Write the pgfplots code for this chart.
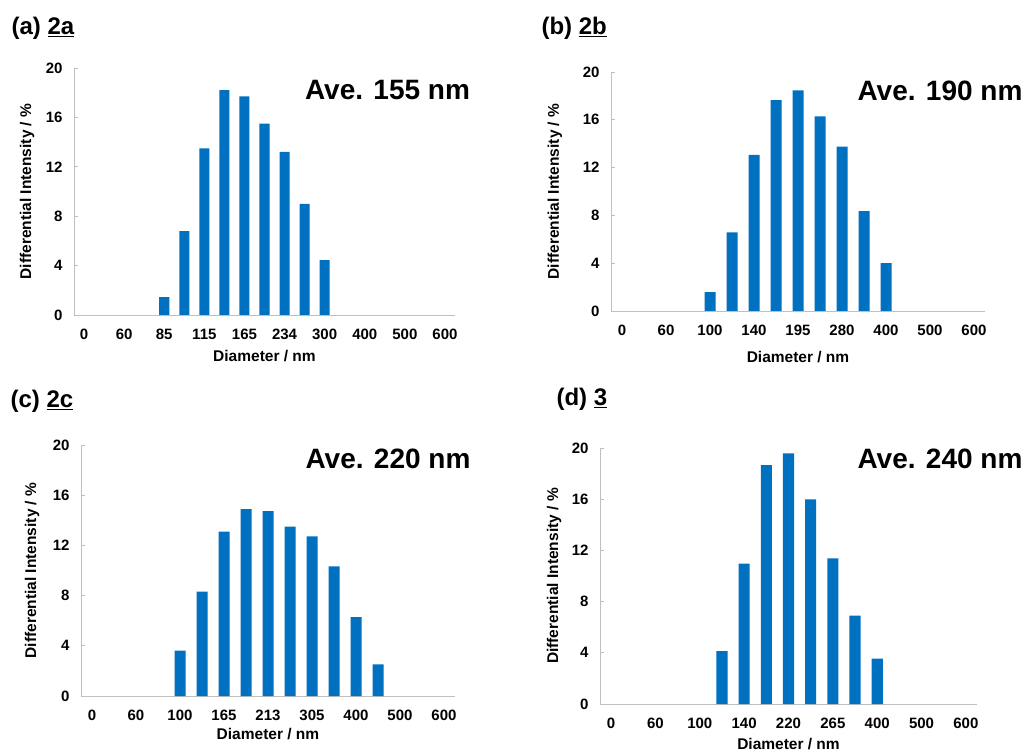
\documentclass[border=0pt]{standalone}
\usepackage{fontspec}
\setmainfont{Liberation Sans}
\usepackage{pgfplots}
\pgfplotsset{compat=1.18}
\definecolor{barblue}{HTML}{0070C0}
\definecolor{axgray}{HTML}{BFBFBF}

\pgfplotsset{dls/.style={
    scale only axis, anchor=south west, clip=false,
    ybar, bar width=0.5,
    ymin=0, ymax=20, ytick={0,4,...,20},
    axis lines=left, axis line style={axgray, line width=0.9pt, -},
    ytick pos=left, tick align=inside, major tick length=4pt,
    ytick style={axgray, line width=0.9pt},
    xtick style={draw=none},
    xtick={0,2,...,18},
    /pgf/number format/assume math mode=true,
    tick label style={font=\fontsize{15}{18}\selectfont\bfseries},
    yticklabel style={xshift=-8pt},
    xticklabel style={anchor=center, yshift=-19pt},
    label style={font=\fontsize{15.5}{18}\selectfont\bfseries},
    xlabel={Diameter / nm},
    ylabel={Differential Intensity / \%},
}}

\begin{document}
\begin{tikzpicture}[x=1pt,y=1pt]
\useasboundingbox (0,0) rectangle (1025,753);

% (a) 2a
\begin{axis}[dls, at={(74pt,438pt)}, width=381pt, height=247pt,
    xmin=-0.5, xmax=18.5,
    xticklabels={0,60,85,115,165,234,300,400,500,600},
    xlabel style={at={(axis description cs:0.5,-0.166)}, anchor=center},
    ylabel style={at={(axis description cs:-0.123,0.5)}, anchor=center},
]
\addplot[fill=barblue, draw=none] coordinates {(4,1.45)(5,6.8)(6,13.5)(7,18.2)(8,17.7)(9,15.5)(10,13.2)(11,9.0)(12,4.45)};
\end{axis}

% (b) 2b
\begin{axis}[dls, at={(611pt,442pt)}, width=374pt, height=239pt,
    xmin=-0.5, xmax=16.5,
    xticklabels={0,60,100,140,195,280,400,500,600},
    xlabel style={at={(axis description cs:0.5,-0.192)}, anchor=center},
    ylabel style={at={(axis description cs:-0.150,0.5)}, anchor=center},
]
\addplot[fill=barblue, draw=none] coordinates {(4,1.57)(5,6.57)(6,13.06)(7,17.65)(8,18.46)(9,16.28)(10,13.76)(11,8.36)(12,4.0)};
\end{axis}

% (c) 2c
\begin{axis}[dls, at={(81pt,57pt)}, width=374pt, height=251pt,
    xmin=-0.5, xmax=16.5,
    xticklabels={0,60,100,165,213,305,400,500,600},
    xlabel style={at={(axis description cs:0.5,-0.151)}, anchor=center},
    ylabel style={at={(axis description cs:-0.131,0.5)}, anchor=center},
]
\addplot[fill=barblue, draw=none] coordinates {(4,3.61)(5,8.31)(6,13.09)(7,14.9)(8,14.74)(9,13.49)(10,12.72)(11,10.33)(12,6.29)(13,2.52)};
\end{axis}

% (d) 3
\begin{axis}[dls, at={(600pt,49pt)}, width=377pt, height=256pt,
    xmin=-0.5, xmax=16.5,
    xticklabels={0,60,100,140,220,265,400,500,600},
    xlabel style={at={(axis description cs:0.5,-0.158)}, anchor=center},
    ylabel style={at={(axis description cs:-0.122,0.5)}, anchor=center},
]
\addplot[fill=barblue, draw=none] coordinates {(5,4.14)(6,10.96)(7,18.67)(8,19.58)(9,15.99)(10,11.38)(11,6.9)(12,3.54)};
\end{axis}

% panel titles
\begin{scope}[every node/.style={font=\fontsize{24}{28}\selectfont\bfseries, anchor=west}]
\node at (8pt,725pt) {(a) \underline{2a}};
\node at (538pt,725pt) {(b) \underline{2b}};
\node at (7pt,352pt) {(c) \underline{2c}};
\node at (553pt,354pt) {(d) \underline{3}};
\end{scope}

% averages
\begin{scope}[every node/.style={font=\fontsize{28}{32}\selectfont\bfseries}]
\node at (387.5pt,663pt) {Ave. 155 nm};
\node at (940pt,662pt) {Ave. 190 nm};
\node at (388pt,294pt) {Ave. 220 nm};
\node at (940pt,294pt) {Ave. 240 nm};
\end{scope}
\end{tikzpicture}
\end{document}
